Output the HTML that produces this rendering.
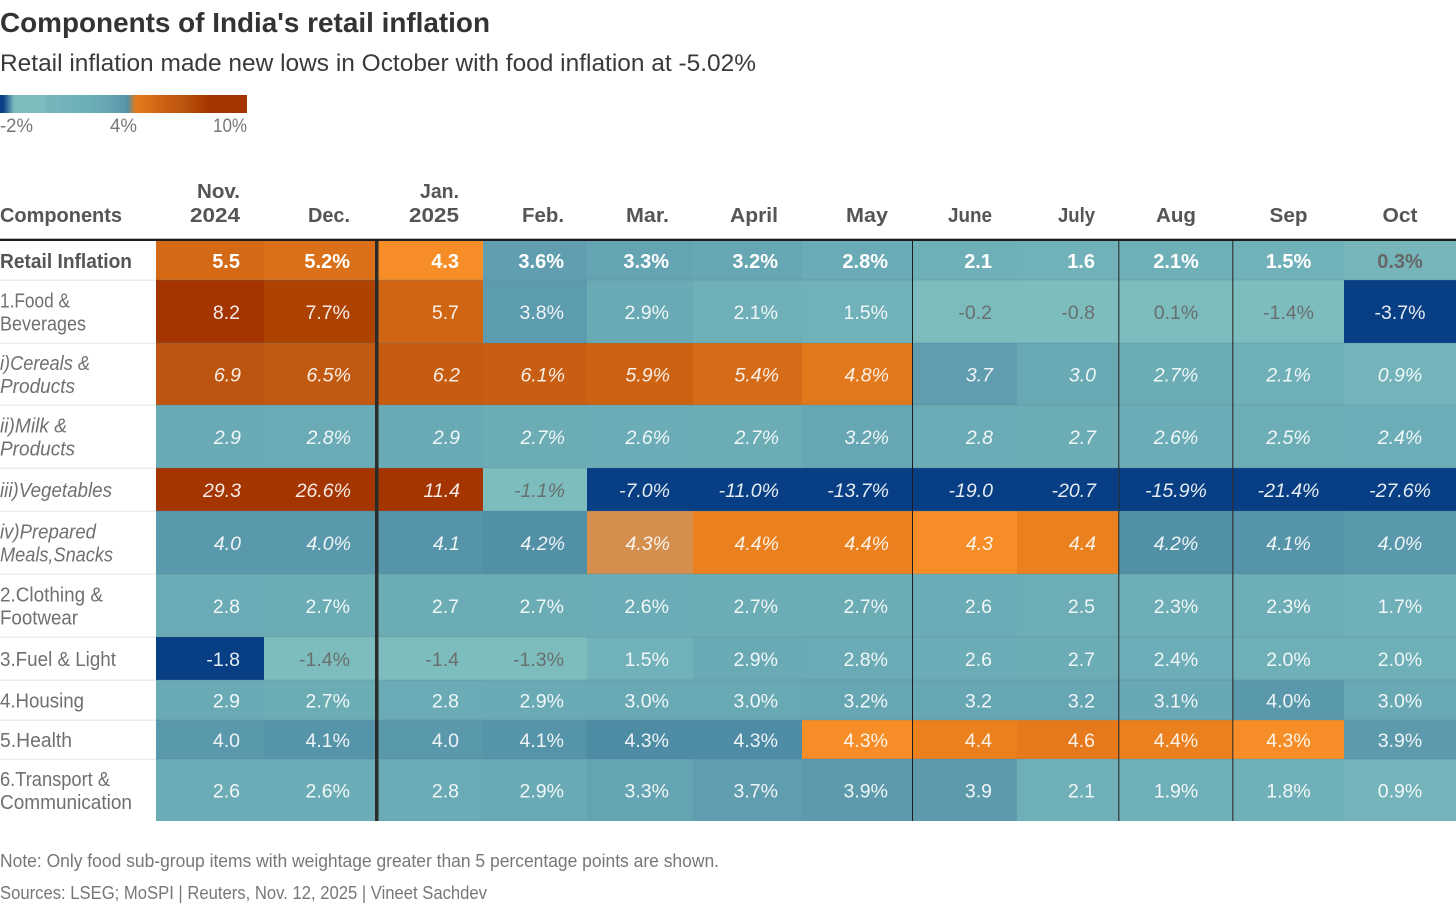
<!DOCTYPE html>
<html lang="en">
<head>
<meta charset="utf-8">
<title>Components of India's retail inflation</title>
<style>
html,body{margin:0;padding:0;background:#fff;width:1456px;height:905px;overflow:hidden}
svg{display:block;font-family:"Liberation Sans",Arial,sans-serif}
</style>
</head>
<body>
<svg id="chart" xmlns="http://www.w3.org/2000/svg" width="1456" height="905" viewBox="0 0 1456 905">
  <defs><linearGradient id="legend-gradient" x1="0" x2="1" y1="0" y2="0"></linearGradient></defs>
  <text x="0" y="32" font-size="28" font-weight="700" fill="#333" textLength="490" lengthAdjust="spacingAndGlyphs">Components of India's retail inflation</text>
  <text x="0" y="71" font-size="24" fill="#3a3a3a" textLength="756" lengthAdjust="spacingAndGlyphs">Retail inflation made new lows in October with food inflation at -5.02%</text>
  <rect x="0" y="95" width="247" height="18" fill="url(#legend-gradient)"/>
  <text x="0" y="132" font-size="19" fill="#777" textLength="33" lengthAdjust="spacingAndGlyphs">-2%</text>
  <text x="110" y="132" font-size="19" fill="#777" textLength="27" lengthAdjust="spacingAndGlyphs">4%</text>
  <text x="213" y="132" font-size="19" fill="#777" textLength="34" lengthAdjust="spacingAndGlyphs">10%</text>
  <text x="0" y="222" font-size="20" font-weight="700" fill="#555" textLength="122" lengthAdjust="spacingAndGlyphs">Components</text>
  <g id="headers"></g>
  <g id="row-labels"></g>
  <g id="cells"></g>
  <g id="separators"></g>
  <rect x="0" y="238.7" width="1456" height="2.3" fill="#1c1c1c"/>
  <text x="0" y="867" font-size="18" fill="#777" textLength="719" lengthAdjust="spacingAndGlyphs">Note: Only food sub-group items with weightage greater than 5 percentage points are shown.</text>
  <text x="0" y="899" font-size="18" fill="#777" textLength="487" lengthAdjust="spacingAndGlyphs">Sources: LSEG; MoSPI | Reuters, Nov. 12, 2025 | Vineet Sachdev</text>
</svg>
<script>
// ---- data ----
const months = ["Nov. 2024","Dec.","Jan. 2025","Feb.","Mar.","April","May","June","July","Aug","Sep","Oct"];
const percentMonths = ["Dec.","Feb.","Mar.","April","May","Aug","Sep","Oct"];
const retail    = [5.5,5.2,4.33,3.6,3.3,3.2,2.8,2.1,1.6,2.1,1.5,0.3];
const food      = [8.2,7.7,5.7,3.8,2.9,2.1,1.5,-0.2,-0.8,0.1,-1.4,-3.7];
const cereals   = [6.9,6.5,6.2,6.1,5.9,5.4,4.8,3.7,3.0,2.7,2.1,0.9];
const milk      = [2.9,2.8,2.9,2.7,2.6,2.7,3.2,2.8,2.7,2.6,2.5,2.4];
const vegetables= [29.3,26.6,11.4,-1.1,-7.0,-11.0,-13.7,-19.0,-20.7,-15.9,-21.4,-27.6];
const prepared  = [4.0,4.0,4.1,4.2,4.30,4.4,4.4,4.33,4.4,4.2,4.1,4.0];
const clothing  = [2.8,2.7,2.7,2.7,2.6,2.7,2.7,2.6,2.5,2.3,2.3,1.7];
const fuel      = [-1.8,-1.4,-1.4,-1.3,1.5,2.9,2.8,2.6,2.7,2.4,2.0,2.0];
const housing   = [2.9,2.7,2.8,2.9,3.0,3.0,3.2,3.2,3.2,3.1,4.0,3.0];
const health    = [4.0,4.1,4.0,4.1,4.27,4.27,4.33,4.4,4.6,4.4,4.33,3.9];
const transport = [2.6,2.6,2.8,2.9,3.3,3.7,3.9,3.9,2.1,1.9,1.8,0.9];
const series = [retail,food,cereals,milk,vegetables,prepared,clothing,fuel,housing,health,transport];
const rowNames = [["Retail Inflation"],["1.Food &","Beverages"],["i)Cereals &","Products"],["ii)Milk &","Products"],["iii)Vegetables"],["iv)Prepared","Meals,Snacks"],["2.Clothing &","Footwear"],["3.Fuel & Light"],["4.Housing"],["5.Health"],["6.Transport &","Communication"]];
const italicRows = ["i)Cereals &","ii)Milk &","iii)Vegetables","iv)Prepared"];
const boldRows = ["Retail Inflation"];

// ---- colour scale: value -> colour ----
const colorStops = [[-1.6,"#083f84"],[-1.45,"#7ebdbd"],[0.1,"#7cbcbd"],[0.3,"#76b6bb"],[0.9,"#74b3ba"],[1.5,"#71b1b9"],[2.0,"#6fafb8"],[2.8,"#6babb5"],[3.2,"#67a6b3"],[3.7,"#5f9daf"],[4.0,"#5a98ab"],[4.2,"#5290a6"],[4.27,"#4e8ca5"],[4.3,"#d48f4e"],[4.33,"#f68d27"],[4.4,"#ea801e"],[4.6,"#e5791c"],[4.8,"#e2781c"],[5.4,"#d66c17"],[5.7,"#d06614"],[6.2,"#c65c10"],[6.9,"#bd540f"],[7.7,"#ad4203"],[8.2,"#a43500"]];
function hexToRgb(h){return [1,3,5].map(function(i){return parseInt(h.substr(i,2),16);});}
function colorScale(v){
  if(v<=colorStops[0][0])return colorStops[0][1];
  var last=colorStops[colorStops.length-1];
  if(v>=last[0])return last[1];
  for(var i=1;i<colorStops.length;i++){
    if(v<=colorStops[i][0]){
      var a=colorStops[i-1],b=colorStops[i],t=(v-a[0])/(b[0]-a[0]);
      var ca=hexToRgb(a[1]),cb=hexToRgb(b[1]);
      return "rgb("+ca.map(function(c,k){return Math.round(c+(cb[k]-c)*t);}).join(",")+")";
    }
  }
}

// ---- layout (not data) ----
const colEdgeLayout = [156,264,375,483,587,693,802,912,1017,1118.3,1232.3,1344,1456];
const rowEdgeLayout = [241,280,343,405,468,511,574,637,680,720,759,821];
const textAnchorLayout = [240,350,459,564,669,778,888,992,1095,1176,1288.5,1400];
const headerWidthLayout = {"Nov.":43,"2024":50,"Dec.":42,"Jan.":39,"2025":50,"Feb.":42,"Mar.":43,"April":48,"May":42,"June":44,"July":37,"Aug":40,"Sep":38,"Oct":35};
const labelWidthLayout = {"Retail Inflation":132,"1.Food &":70,"Beverages":86,"i)Cereals &":90,"Products":75,"ii)Milk &":67,"iii)Vegetables":112,"iv)Prepared":96,"Meals,Snacks":113,"2.Clothing &":103,"Footwear":78,"3.Fuel & Light":116,"4.Housing":84,"5.Health":72,"6.Transport &":110,"Communication":132};

function xLeft(c){return c===2?378.5:colEdgeLayout[c];}
function xRight(c){return colEdgeLayout[c+1];}
function yTop(r){return rowEdgeLayout[r];}
function yBottom(r){return rowEdgeLayout[r+1];}
function yMid(r){return (yTop(r)+yBottom(r))/2;}
function anchorFor(c){return c>=9?"middle":"end";}

var NS="http://www.w3.org/2000/svg";
function make(tag,parent,attrs){
  var el=document.createElementNS(NS,tag);
  for(var k in attrs){el.setAttribute(k,attrs[k]);}
  parent.appendChild(el);
  return el;
}

// legend gradient: same scale, with the two sharp transitions softened as in the printed key
var grad=document.getElementById("legend-gradient");
make("stop",grad,{offset:0,"stop-color":"#083f84"});
make("stop",grad,{offset:(-1.85+2)/12,"stop-color":"#083f84"});
make("stop",grad,{offset:(-1.3+2)/12,"stop-color":"#7ebdbd"});
colorStops.forEach(function(s){
  if(s[0]<=-1.45||(s[0]>=4.27&&s[0]<=4.4))return;
  make("stop",grad,{offset:(s[0]+2)/12,"stop-color":s[1]});
});
make("stop",grad,{offset:(4.05+2)/12,"stop-color":"#5a98ab"});
make("stop",grad,{offset:1,"stop-color":"#a43500"});
var gradStops=Array.prototype.slice.call(grad.children).sort(function(a,b){return a.getAttribute("offset")-b.getAttribute("offset");});
gradStops.forEach(function(s){grad.appendChild(s);});

// headers
var headerGroup=document.getElementById("headers");
months.forEach(function(m,c){
  var parts=m.split(" ");
  parts.forEach(function(p,i){
    var y=parts.length===2?(i===0?198:222):222;
    var t=make("text",headerGroup,{x:textAnchorLayout[c],y:y,"font-size":20,"font-weight":700,fill:"#555","text-anchor":anchorFor(c),textLength:headerWidthLayout[p],lengthAdjust:"spacingAndGlyphs"});
    
    
    t.textContent=p;
  });
});

// row labels and separators in label column
var labelGroup=document.getElementById("row-labels");
rowNames.forEach(function(lines,r){
  var isItalic=italicRows.indexOf(lines[0])>=0;
  var isBold=boldRows.indexOf(lines[0])>=0;
  lines.forEach(function(line,i){
    var y=yMid(r)+7.4+(lines.length===2?(i===0?-11.5:11.5):0);
    var t=make("text",labelGroup,{x:0,y:y,"font-size":20,fill:isBold?"#555":"#707070","font-weight":isBold?700:400,"font-style":isItalic?"italic":"normal",textLength:labelWidthLayout[line],lengthAdjust:"spacingAndGlyphs"});
    
    
    t.textContent=line;
  });
  if(r<rowNames.length-1){
    var sep=make("rect",labelGroup,{x:0,y:yBottom(r)-0.5,width:156,height:1.5,fill:"#ececec"});
    
    
  }
});

// heatmap cells
var cellGroup=document.getElementById("cells");
series.forEach(function(vals,r){
  vals.forEach(function(v,c){
    var rect=make("rect",cellGroup,{x:xLeft(c),y:yTop(r),width:xRight(c)-xLeft(c),height:yBottom(r)-yTop(r),fill:colorScale(v)});
    
    
  });
  if(r>0){
    var line=make("rect",cellGroup,{x:156,y:yTop(r)-0.5,width:1300,height:1,fill:"rgb(80,125,150)","fill-opacity":0.28});
    
    
  }
});
series.forEach(function(vals,r){
  var isItalic=italicRows.indexOf(rowNames[r][0])>=0;
  var isBold=boldRows.indexOf(rowNames[r][0])>=0;
  vals.forEach(function(v,c){
    var pale=v>-1.6&&v<0.5;
    var label=v.toFixed(1)+(percentMonths.indexOf(months[c])>=0?"%":"");
    var t=make("text",cellGroup,{x:textAnchorLayout[c]+(isItalic&&c<9?1:0),y:yMid(r)+7.5,"font-size":isBold?20:19.5,"font-weight":isBold?700:400,"font-style":isItalic?"italic":"normal",fill:pale?"#666":"#fff","fill-opacity":isBold?1:0.9,"text-anchor":anchorFor(c)});
    
    
    t.textContent=label;
  });
});

// column separators
var sepGroup=document.getElementById("separators");
var thick=make("rect",sepGroup,{x:xRight(1),y:241,width:xLeft(2)-xRight(1),height:580,fill:"#2b2b2b"});


[6,8,9].forEach(function(c){
  var s=make("rect",sepGroup,{x:xRight(c),y:241,width:1,height:580,fill:"#1c1c1c"});
  
  
});
</script>
</body>
</html>
